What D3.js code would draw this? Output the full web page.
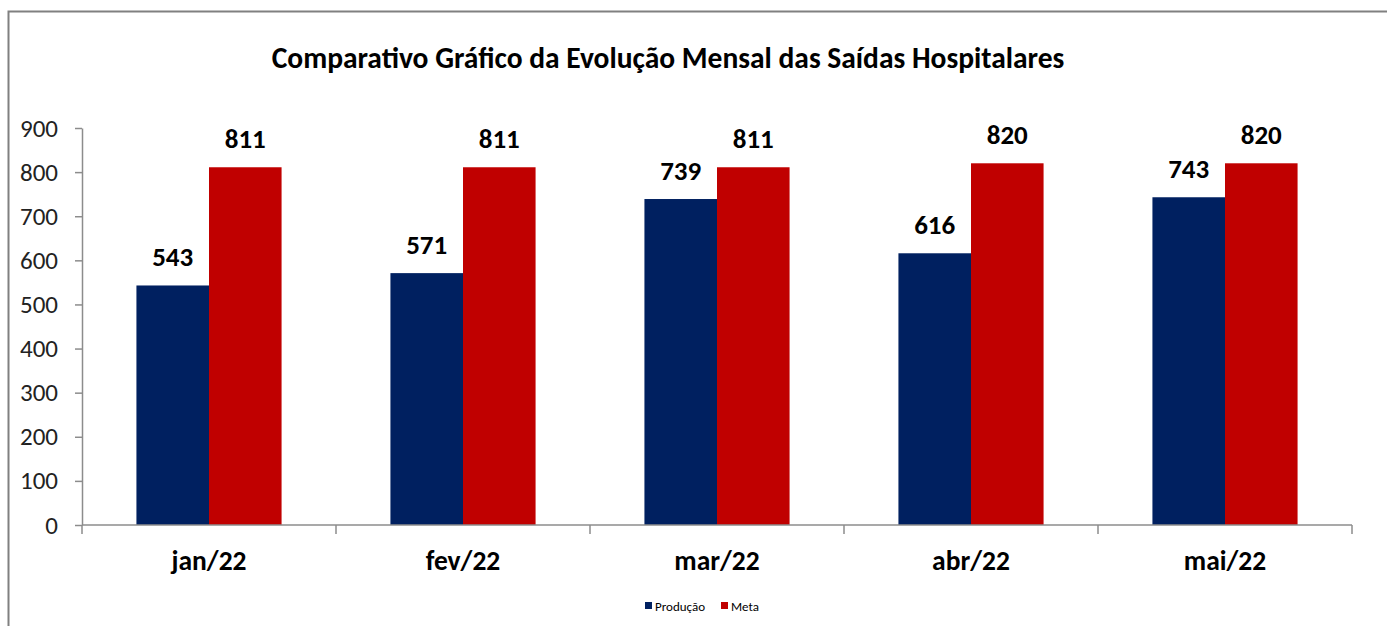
<!DOCTYPE html>
<html lang="pt">
<head>
<meta charset="UTF-8">
<title>Saídas Hospitalares</title>
<style>
  body { margin: 0; background: #fff; }
  svg text { font-family: Calibri, Carlito, "Liberation Sans Narrow", "Open Sans", sans-serif; }
</style>
</head>
<body>
<div class="canvas"></div>
<script src="https://cdnjs.cloudflare.com/ajax/libs/d3/7.8.5/d3.min.js"></script>
<script>
// data
const months = ['jan/22', 'fev/22', 'mar/22', 'abr/22', 'mai/22'];
const producao = [543, 571, 739, 616, 743];
const meta = [811, 811, 811, 820, 820];
const yTicks = [0, 100, 200, 300, 400, 500, 600, 700, 800, 900];
const seriesNames = ['Produção', 'Meta'];
const colors = ['#002060', '#C00000'];

const width = 1387, height = 626;
const svg = d3.select('.canvas')
  .append('svg')
    .attr('width', width)
    .attr('height', height);

// outer frame
svg.append('rect')
  .attr('x', 8.5).attr('y', 11.5)
  .attr('width', width + 10).attr('height', height + 10)
  .attr('fill', 'none')
  .attr('stroke', '#808080')
  .attr('stroke-width', 2);

// title
svg.append('text')
  .attr('x', 668).attr('y', 68)
  .attr('text-anchor', 'middle')
  .attr('font-size', 29.5)
  .attr('font-weight', 'bold')
  .attr('fill', '#000')
  .text('Comparativo Gráfico da Evolução Mensal das Saídas Hospitalares');

const margin = {top: 128, left: 82, right: 35, bottom: 101};
const graphWidth = width - margin.left - margin.right;
const graphHeight = height - margin.top - margin.bottom;

const graph = svg.append('g')
  .attr('transform', `translate(${margin.left}, ${margin.top})`);

const y = d3.scaleLinear()
  .domain([0, 900])
  .range([graphHeight, 0]);

const x = d3.scaleBand()
  .domain(months)
  .range([0, graphWidth]);

// bars: gap width 150% of bar width
const barW = x.bandwidth() / 3.5;
const x1 = d3.scaleBand()
  .domain([0, 1])
  .range([barW * 0.75, barW * 2.75]);

const rows = months.map((m, i) => ({month: m, values: [producao[i], meta[i]]}));

const groups = graph.selectAll('g.grp')
  .data(rows)
  .enter()
  .append('g')
    .attr('class', 'grp')
    .attr('transform', d => `translate(${x(d.month)}, 0)`);

groups.selectAll('rect')
  .data(d => d.values.map((v, s) => ({v, s})))
  .enter()
  .append('rect')
    .attr('x', d => x1(d.s))
    .attr('width', x1.bandwidth())
    .attr('y', d => y(d.v))
    .attr('height', d => graphHeight - y(d.v))
    .attr('fill', d => colors[d.s]);

groups.selectAll('text.val')
  .data(d => d.values.map((v, s) => ({v, s})))
  .enter()
  .append('text')
    .attr('class', 'val')
    .attr('x', d => x1(d.s) + x1.bandwidth() / 2)
    .attr('y', d => y(d.v) - 19)
    .attr('text-anchor', 'middle')
    .attr('font-size', 27)
    .attr('font-weight', 'bold')
    .attr('fill', '#000')
    .text(d => d.v);

// axes
const yAxis = d3.axisLeft(y)
  .tickValues(yTicks)
  .tickSize(7)
  .tickPadding(17)
  .tickSizeOuter(0);

const yAxisGroup = graph.append('g').call(yAxis);
yAxisGroup.selectAll('text')
  .attr('font-size', 25)
  .attr('fill', '#222');

const xAxisGroup = graph.append('g')
  .attr('transform', `translate(0, ${graphHeight})`);

xAxisGroup.append('line')
  .attr('x1', 0).attr('x2', graphWidth)
  .attr('y1', 0).attr('y2', 0);

xAxisGroup.selectAll('line.tk')
  .data(d3.range(months.length + 1))
  .enter()
  .append('line')
    .attr('class', 'tk')
    .attr('x1', i => i === months.length ? graphWidth : x(months[i]))
    .attr('x2', i => i === months.length ? graphWidth : x(months[i]))
    .attr('y1', 0).attr('y2', 9);

xAxisGroup.selectAll('text')
  .data(months)
  .enter()
  .append('text')
    .attr('x', d => x(d) + x.bandwidth() / 2)
    .attr('y', 45)
    .attr('text-anchor', 'middle')
    .attr('font-size', 27.5)
    .attr('font-weight', 'bold')
    .attr('fill', '#000')
    .text(d => d);

graph.selectAll('.domain, .tick line, g line')
  .attr('stroke', '#8c8c8c')
  .attr('stroke-width', 1.5);

// legend
const legend = svg.append('g')
  .attr('transform', 'translate(645, 606)');
const legendX = [0, 76];
seriesNames.forEach((name, i) => {
  legend.append('rect')
    .attr('x', legendX[i]).attr('y', -4)
    .attr('width', 7).attr('height', 7)
    .attr('fill', colors[i]);
  legend.append('text')
    .attr('x', legendX[i] + 10).attr('y', 4.5)
    .attr('font-size', 13)
    .attr('fill', '#000')
    .text(name);
});
</script>
</body>
</html>
